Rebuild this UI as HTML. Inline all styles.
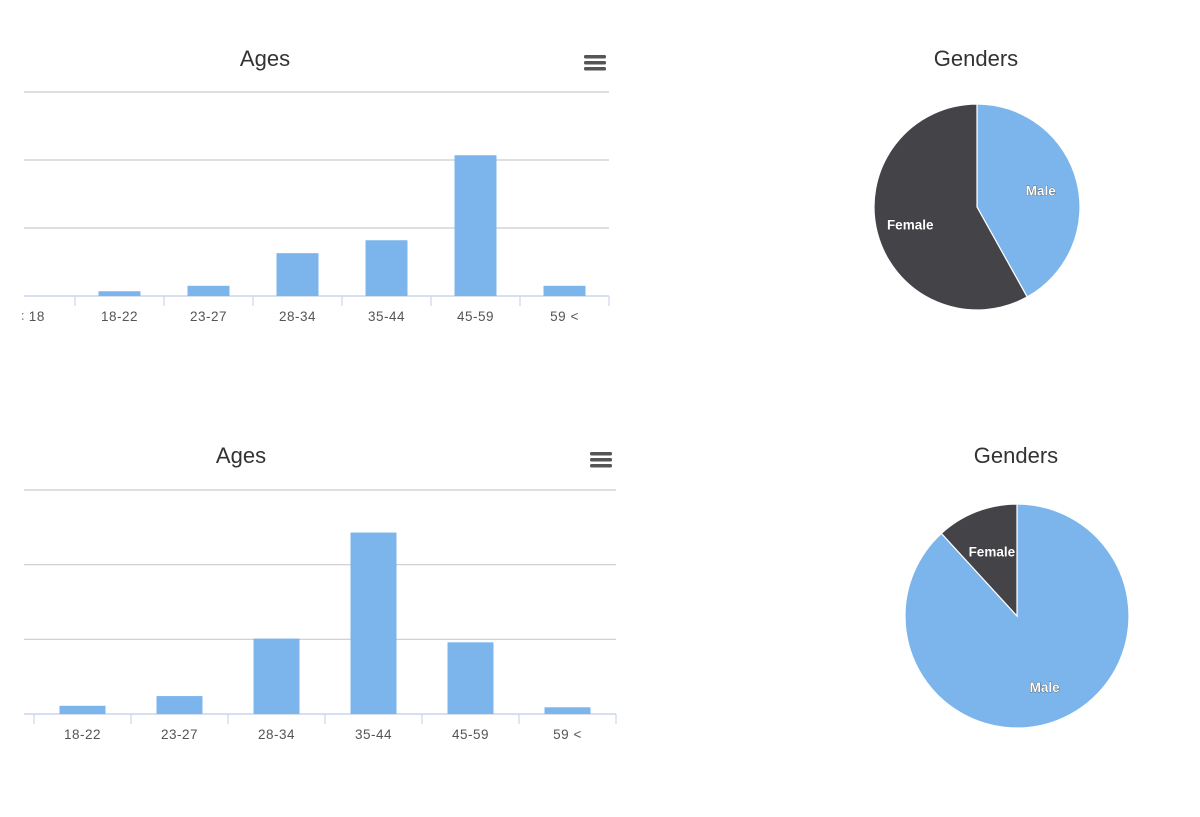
<!DOCTYPE html>
<html><head><meta charset="utf-8"><style>
body{margin:0;background:#fff;width:1200px;height:817px;overflow:hidden;font-family:"Liberation Sans","DejaVu Sans",sans-serif}
svg{position:absolute;left:0;top:0}
</style></head><body>
<svg id="s" width="1200" height="817"><defs><clipPath id="c1"><rect x="22" y="0" width="600" height="400"/></clipPath></defs></svg>
<script>
const cats1=["< 18","18-22","23-27","28-34","35-44","45-59","59 <"];
const vals1=[0,0.7,1.5,6.3,8.2,20.7,1.5];
const cats2=["18-22","23-27","28-34","35-44","45-59","59 <"];
const vals2=[1.1,2.4,10.1,24.3,9.6,0.9];
const yTicks=[0,10,20,30];
const pieNames=["Male","Female"];
const pie1=[41.9,58.1];
const pie2=[88.2,11.8];
const NS="http://www.w3.org/2000/svg";
const svg=document.getElementById('s');
function mk(t,a,p){const e=document.createElementNS(NS,t);for(const k in a)e.setAttribute(k,a[k]);(p||svg).appendChild(e);return e;}
function bar(o){
  const g=mk('g',{});
  
  
  if(o.clip)g.setAttribute('clip-path','url(#'+o.clip+')');
  const t=mk('text',{x:o.tx,y:o.ty,'text-anchor':'middle','font-size':22,fill:'#333'},g);t.textContent='Ages';
  
  
  const m=mk('g',{},g);
  
  
  for(let i=0;i<3;i++)mk('rect',{x:o.mx-11,y:o.my-7+i*6,width:22,height:3.5,rx:1.5,fill:'#555'},m);
  const ymax=yTicks[yTicks.length-1];
  const y=v=>o.base-(v/ymax)*(o.base-o.top);
  yTicks.slice(1).forEach(v=>{const l=mk('line',{x1:o.x0,x2:o.x1,y1:y(v),y2:y(v),stroke:'#ccc','stroke-width':1.2},g);
    });
  mk('line',{x1:o.x0,x2:o.x1,y1:o.base,y2:o.base,stroke:'#ccd6eb','stroke-width':1.5},g);
  const n=o.cats.length,cw=(o.x1-o.start)/n;
  const x=i=>o.start+i*cw;
  for(let i=0;i<=n;i++)mk('line',{x1:x(i),x2:x(i),y1:o.base,y2:o.base+10,stroke:'#ccd6eb','stroke-width':1.2},g);
  o.cats.forEach((c,i)=>{
    const h=o.base-y(o.vals[i]);
    const r=mk('rect',{x:x(i)+cw/2-o.bw/2,y:y(o.vals[i]),width:o.bw,height:h,fill:'#7cb5ec'},g);
    
    
    const tl=mk('text',{x:x(i)+cw/2,y:o.base+25,'text-anchor':'middle','font-size':13.5,fill:'#555','letter-spacing':0.5},g);tl.textContent=c;
    
    
  });
}
function pie(o){
  const g=mk('g',{});
  
  
  const t=mk('text',{x:o.tx,y:o.ty,'text-anchor':'middle','font-size':22,fill:'#333'},g);t.textContent='Genders';
  
  
  const tot=o.vals.reduce((a,b)=>a+b,0);let a0=0;
  const cols=['#7cb5ec','#434348'];
  o.vals.forEach((v,i)=>{
    const a1=a0+v/tot*2*Math.PI;
    const p=(a)=>[o.cx+o.r*Math.sin(a),o.cy-o.r*Math.cos(a)];
    const [x0,y0]=p(a0),[x1,y1]=p(a1);
    const s=mk('path',{d:`M${o.cx},${o.cy}L${x0},${y0}A${o.r},${o.r} 0 ${a1-a0>Math.PI?1:0} 1 ${x1},${y1}Z`,fill:cols[i],stroke:'#fff','stroke-width':1.2},g);
    
    
    const am=(a0+a1)/2,rr=o.r*o.lr[i];
    const l=mk('text',{x:o.cx+rr*Math.sin(am),y:o.cy-rr*Math.cos(am)+5,'text-anchor':'middle','font-size':13.5,'font-weight':'bold',fill:'#fff',stroke:'#333','stroke-width':0.6,'paint-order':'stroke'},g);
    l.textContent=pieNames[i];
    
    
    a0=a1;
  });
}
bar({name:'ages-chart-1',cats:cats1,vals:vals1,tx:265,ty:66,mx:595,my:62,x0:24,x1:609,start:-14,top:92,base:296,bw:42,clip:'c1'});
bar({name:'ages-chart-2',cats:cats2,vals:vals2,tx:241,ty:463,mx:601,my:459,x0:24,x1:616,start:34,top:490,base:714,bw:46});
pie({name:'genders-chart-1',vals:pie1,tx:976,ty:66,cx:977,cy:207,r:103,lr:[0.64,0.67]});
pie({name:'genders-chart-2',vals:pie2,tx:1016,ty:463,cx:1017,cy:616,r:112,lr:[0.68,0.62]});
</script>
</body></html>
